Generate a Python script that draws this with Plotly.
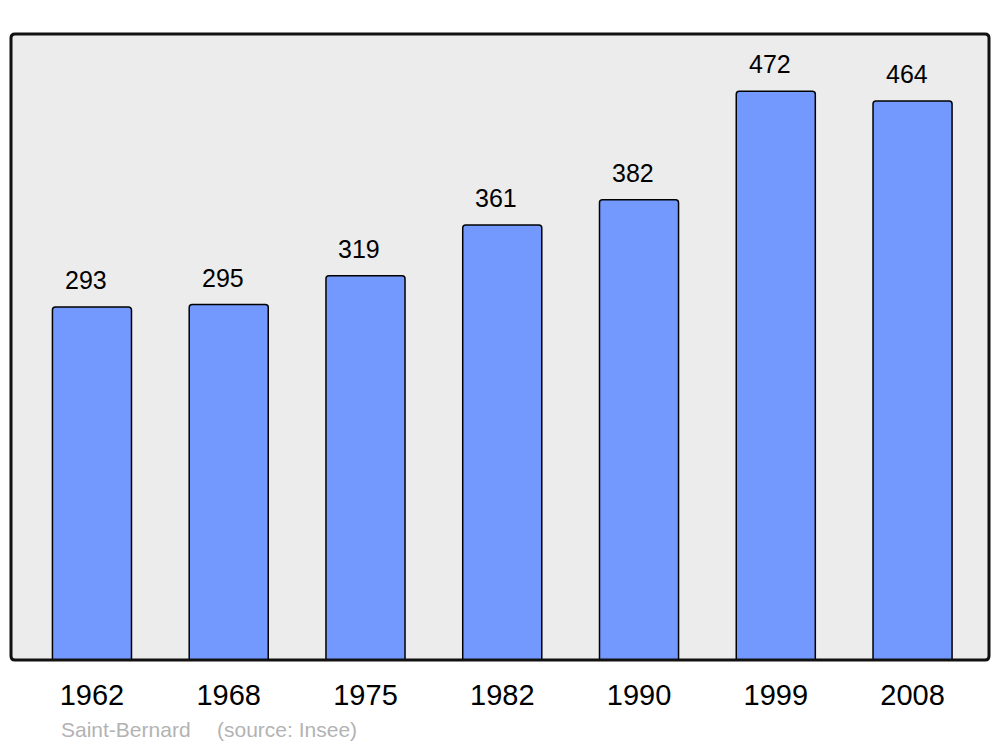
import plotly.graph_objects as go

years = ["1962", "1968", "1975", "1982", "1990", "1999", "2008"]
population = [293, 295, 319, 361, 382, 472, 464]
commune = "Saint-Bernard"
source = "(source: Insee)"

# page body has an 8px margin; work in screen coordinates and subtract it
OFF = 8
W, H = 1000 - OFF, 747 - OFF
L, T = 11 - OFF, 34 - OFF
R = W - (989 - OFF)
B = H - (660 - OFF)
pw, ph = W - L - R, H - T - B

FONT = "Liberation Sans, Arial, sans-serif"

fig = go.Figure()
fig.add_trace(go.Bar(
    x=years, y=population, width=0.578,
    marker=dict(color="#7399ff", line=dict(color="#000000", width=1.5), cornerradius=3),
    hoverinfo="skip",
))

for i, v in enumerate(population):
    fig.add_annotation(x=i, y=v, text=str(v), showarrow=False, yanchor="bottom",
                       yshift=11, xshift=-6, font=dict(size=25, color="#000000", family=FONT))

# rounded frame
r = 4
rx, ry = r / pw, r / ph
path = (f"M {rx},0 L {1-rx},0 Q 1,0 1,{ry} L 1,{1-ry} Q 1,1 {1-rx},1 "
        f"L {rx},1 Q 0,1 0,{1-ry} L 0,{ry} Q 0,0 {rx},0 Z")
fig.add_shape(type="path", path=path, xref="paper", yref="paper",
              line=dict(color="#111111", width=3), layer="above")

fy = ((H - (729 - OFF)) - B) / ph
fig.add_annotation(x=(59 - 11) / pw, y=fy, xref="paper", yref="paper",
                   text=commune, showarrow=False, xanchor="left", yanchor="middle",
                   font=dict(size=21, color="#b3b3b3", family=FONT))
fig.add_annotation(x=(215 - 11) / pw, y=fy, xref="paper", yref="paper",
                   text=source, showarrow=False, xanchor="left", yanchor="middle",
                   font=dict(size=21, color="#b3b3b3", family=FONT))

fig.update_layout(
    width=W, height=H,
    margin=dict(l=L, r=R, t=T, b=B),
    paper_bgcolor="#ffffff", plot_bgcolor="#ececec",
    showlegend=False,
    font=dict(family=FONT, color="#000000"),
    xaxis=dict(type="category", range=[-0.592, 6.559], showgrid=False, zeroline=False,
               showline=False, ticks="", tickfont=dict(size=29), ticklabelstandoff=15),
    yaxis=dict(range=[0, 519.6], showgrid=False, zeroline=False, showline=False,
               showticklabels=False, ticks=""),
)

fig.write_html("out.html")
